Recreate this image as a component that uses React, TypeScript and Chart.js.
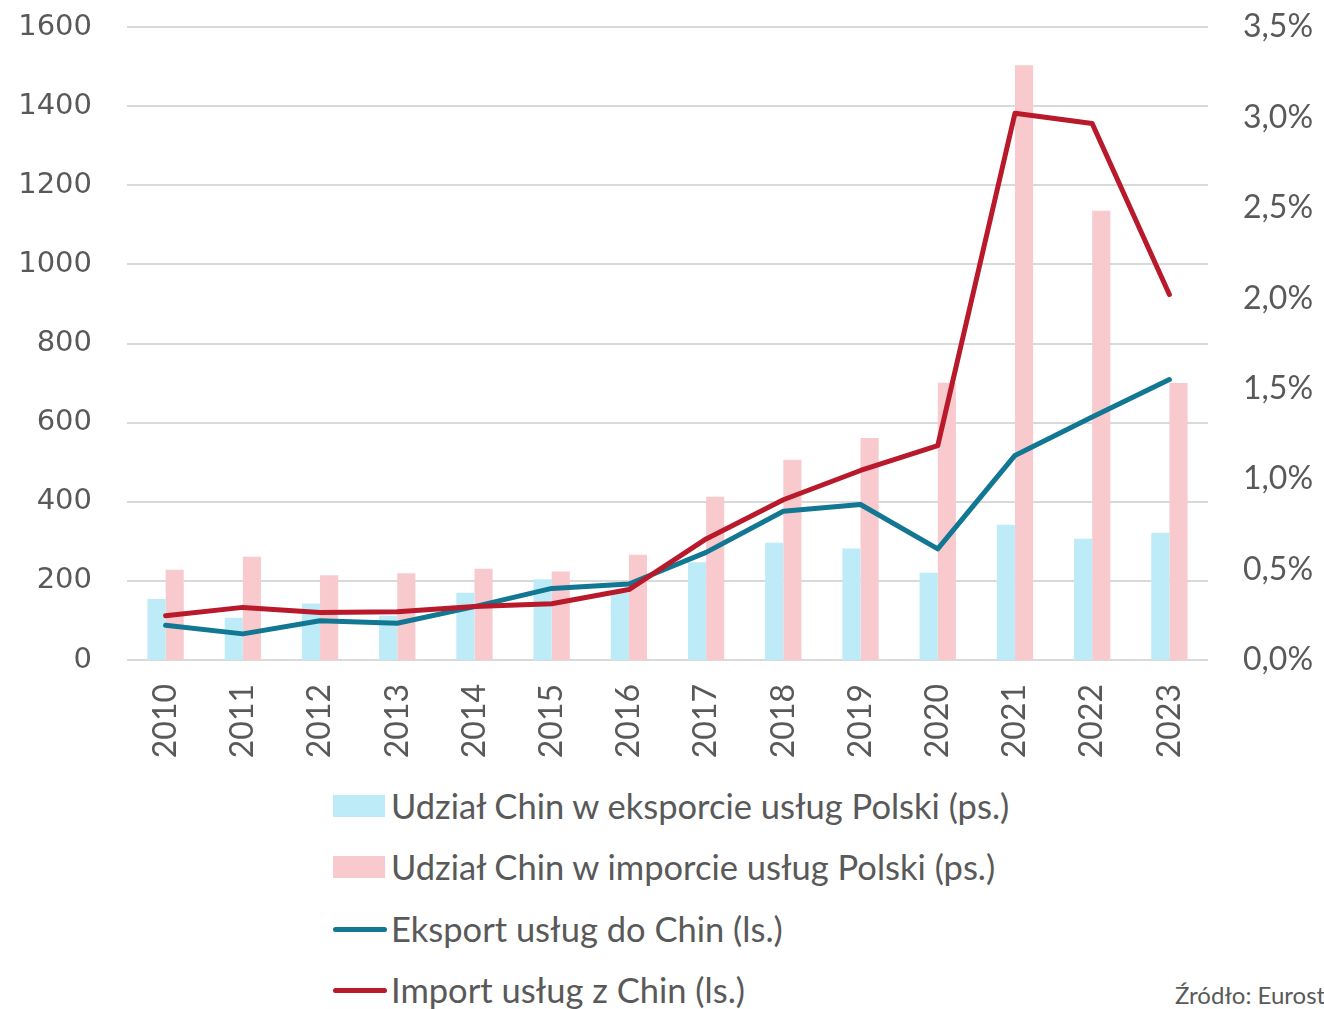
import React, { useEffect, useRef } from "react";
import { Chart, registerables } from "chart.js";

Chart.register(...registerables);

const years = ["2010", "2011", "2012", "2013", "2014", "2015", "2016", "2017", "2018", "2019", "2020", "2021", "2022", "2023"];
// share of China in Polish services exports / imports, % (right scale)
const exportShare = [0.337, 0.234, 0.313, 0.245, 0.372, 0.446, 0.37, 0.54, 0.648, 0.617, 0.483, 0.748, 0.671, 0.704];
const importShare = [0.499, 0.571, 0.468, 0.479, 0.505, 0.49, 0.582, 0.903, 1.107, 1.227, 1.533, 3.289, 2.484, 1.531];
// services exports / imports (left scale)
const exportValue = [88, 66, 99, 93, 135, 181, 192, 272, 376, 393, 281, 517, 614, 709];
const importValue = [112, 133, 120, 122, 135, 142, 178, 306, 405, 479, 542, 1382, 1356, 924];

const labels = [
  "Udział Chin w eksporcie usług Polski (ps.)",
  "Udział Chin w imporcie usług Polski (ps.)",
  "Eksport usług do Chin (ls.)",
  "Import usług z Chin (ls.)",
];
const colors = ["#BDEBF8", "#F8CACE", "#127792", "#B8192B"];
const sourceText = "Źródło: Eurostat";

const TEXT = "#595959";

export default function App() {
  const ref = useRef<HTMLCanvasElement | null>(null);

  useEffect(() => {
    if (!ref.current) return;
    const chart = new Chart(ref.current, {
      type: "bar",
      data: {
        labels: years,
        datasets: [
          {
            type: "bar",
            label: labels[0],
            data: exportShare,
            backgroundColor: colors[0],
            yAxisID: "y1",
            categoryPercentage: 0.47,
            barPercentage: 1,
            order: 3,
          },
          {
            type: "bar",
            label: labels[1],
            data: importShare,
            backgroundColor: colors[1],
            yAxisID: "y1",
            categoryPercentage: 0.47,
            barPercentage: 1,
            order: 3,
          },
          {
            type: "line",
            label: labels[2],
            data: exportValue,
            borderColor: colors[2],
            backgroundColor: colors[2],
            borderWidth: 5,
            pointRadius: 0,
            tension: 0,
            borderCapStyle: "round",
            borderJoinStyle: "round",
            yAxisID: "y",
            order: 2,
          },
          {
            type: "line",
            label: labels[3],
            data: importValue,
            borderColor: colors[3],
            backgroundColor: colors[3],
            borderWidth: 5,
            pointRadius: 0,
            tension: 0,
            borderCapStyle: "round",
            borderJoinStyle: "round",
            yAxisID: "y",
            order: 1,
          },
        ],
      },
      options: {
        responsive: false,
        animation: false,
        layout: { padding: { top: 27, left: 0, right: 0, bottom: 0 } },
        plugins: { legend: { display: false }, tooltip: { enabled: false } },
        scales: {
          x: {
            type: "category",
            offset: true,
            grid: { display: false, drawTicks: false },
            border: { display: false },
            ticks: {
              minRotation: 90,
              maxRotation: 90,
              padding: 24,
              color: TEXT,
              font: { family: "Lato", size: 32 },
            },
            afterFit: (s: any) => {
              s.height = 110;
              s.paddingLeft = 0;
              s.paddingRight = 0;
            },
          },
          y: {
            position: "left",
            min: 0,
            max: 1600,
            ticks: {
              stepSize: 200,
              padding: 35,
              color: TEXT,
              font: { family: "DejaVu Sans", size: 29 },
              callback: (v: any) => String(v),
            },
            grid: { color: "#D9D9D9", lineWidth: 2, drawTicks: false },
            border: { display: false },
            afterFit: (s: any) => {
              s.width = 127;
              s.paddingTop = 0;
              s.paddingBottom = 0;
            },
          },
          y1: {
            position: "right",
            min: 0,
            max: 3.5,
            ticks: {
              stepSize: 0.5,
              padding: 35,
              color: TEXT,
              font: { family: "Lato", size: 32 },
              callback: (v: any) => Number(v).toFixed(1).replace(".", ",") + "%",
            },
            grid: { display: false, drawTicks: false },
            border: { display: false },
            afterFit: (s: any) => {
              s.width = 116;
              s.paddingTop = 0;
              s.paddingBottom = 0;
            },
          },
        },
      },
    });
    return () => chart.destroy();
  }, []);

  const rowY = [806, 867, 929, 990];

  return (
    <div
      style={{
        position: "absolute",
        left: 0,
        top: 0,
        width: 1324,
        height: 1009,
        overflow: "hidden",
        background: "#fff",
        fontFamily: "Lato",
        color: TEXT,
      }}
    >
      <canvas ref={ref} width={1324} height={770} style={{ position: "absolute", left: 0, top: 0, width: 1324, height: 770 }} />
      {labels.map((l, i) => (
        <div key={l} style={{ position: "absolute", left: 333, top: rowY[i] - 22, height: 44, display: "flex", alignItems: "center" }}>
          {i < 2 ? (
            <div style={{ width: 52, height: 22, background: colors[i], marginRight: 6 }} />
          ) : (
            <div style={{ width: 54, height: 5, borderRadius: 3, background: colors[i], marginRight: 4 }} />
          )}
          <span style={{ fontSize: 34.5, lineHeight: "44px", whiteSpace: "nowrap" }}>{l}</span>
        </div>
      ))}
      <div style={{ position: "absolute", left: 1175, top: 981, fontSize: 24, lineHeight: "28px", whiteSpace: "nowrap" }}>{sourceText}</div>
    </div>
  );
}
